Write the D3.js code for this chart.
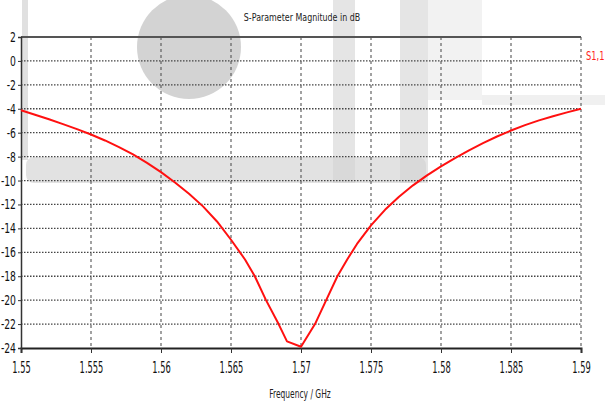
<!DOCTYPE html>
<html>
<head>
<meta charset="utf-8">
<script src="https://cdn.jsdelivr.net/npm/d3@7"></script>
<style>
  body { margin: 0; background: #fff; }
  text { font-family: "DejaVu Sans", "Liberation Sans", sans-serif; }
</style>
</head>
<body>
<div id="chart"></div>
<script>
// S1,1 magnitude
const freq = [1.550, 1.551, 1.552, 1.553, 1.554, 1.555, 1.556, 1.557, 1.558, 1.559,
              1.560, 1.561, 1.562, 1.563, 1.564, 1.565, 1.566, 1.5667, 1.5675, 1.5684,
              1.5690, 1.5700, 1.5710, 1.5718, 1.5726, 1.5733, 1.574, 1.575, 1.576, 1.577,
              1.578, 1.579, 1.580, 1.581, 1.582, 1.583, 1.584, 1.585, 1.586, 1.587,
              1.588, 1.589, 1.590];
const s11 = [-4.12, -4.5, -4.88, -5.28, -5.7, -6.15, -6.65, -7.2, -7.82, -8.52,
             -9.3, -10.16, -11.11, -12.16, -13.42, -14.95, -16.6, -18.0, -20.0, -22.0,
             -23.45, -23.9, -22.0, -20.0, -18.0, -16.6, -15.3, -13.75, -12.45, -11.35,
             -10.4, -9.57, -8.82, -8.12, -7.47, -6.87, -6.32, -5.82, -5.37, -4.97,
             -4.62, -4.3, -4.0];
const xTicks = [1.55, 1.555, 1.56, 1.565, 1.57, 1.575, 1.58, 1.585, 1.59];
const yTicks = [2, 0, -2, -4, -6, -8, -10, -12, -14, -16, -18, -20, -22, -24];
const seriesName = 'S1,1';
const titleText = 'S-Parameter Magnitude in dB';
const xLabel = 'Frequency / GHz';

const W = 605, H = 404;
const margin = {top: 37, right: 24, bottom: 56, left: 21};

const svg = d3.select('#chart').append('svg')
    .attr('width', W)
    .attr('height', H);

//squash text horizontally like the original narrow font
function squeeze(sel, f) {
    sel.each(function() {
        const w = this.getComputedTextLength();
        d3.select(this).attr('textLength', w * f).attr('lengthAdjust', 'spacingAndGlyphs');
    });
}

//faded watermark behind the plot
const wm = svg.append('g').attr('fill', '#d3d3d3');
wm.append('circle').attr('cx', 189).attr('cy', 47).attr('r', 52);
wm.append('rect').attr('x', 22).attr('y', 0).attr('width', 6).attr('height', 160).attr('opacity', 0.7);
wm.append('rect').attr('x', 26).attr('y', 157).attr('width', 400).attr('height', 26).attr('rx', 8).attr('opacity', 0.65);
wm.append('rect').attr('x', 333).attr('y', 0).attr('width', 22).attr('height', 183).attr('opacity', 0.6);
wm.append('rect').attr('x', 400).attr('y', 0).attr('width', 28).attr('height', 183).attr('opacity', 0.6);
wm.append('rect').attr('x', 428).attr('y', 0).attr('width', 54).attr('height', 100).attr('opacity', 0.3);
wm.append('rect').attr('x', 482).attr('y', 95).attr('width', 123).attr('height', 10).attr('opacity', 0.35);

const x = d3.scaleLinear()
    .domain([1.55, 1.59])
    .range([margin.left, W - margin.right]);
const y = d3.scaleLinear()
    .domain([-24, 2])
    .range([H - margin.bottom, margin.top]);

//grid
svg.append('g')
    .selectAll('line')
    .data(yTicks.filter((d) => d > -24 && d < 2))
    .enter().append('line')
    .attr('x1', x(1.55)).attr('x2', x(1.59))
    .attr('y1', (d) => y(d)).attr('y2', (d) => y(d))
    .attr('stroke', '#444')
    .attr('stroke-width', 1.3)
    .attr('stroke-dasharray', '1.5,1.5');
svg.append('g')
    .selectAll('line')
    .data(xTicks.filter((d) => d > 1.55))
    .enter().append('line')
    .attr('x1', (d) => x(d)).attr('x2', (d) => x(d))
    .attr('y1', y(2)).attr('y2', y(-24))
    .attr('stroke', '#555')
    .attr('stroke-width', 1.1)
    .attr('stroke-dasharray', '3,3');

//top frame line
svg.append('line')
    .attr('x1', x(1.55)).attr('x2', x(1.59))
    .attr('y1', y(2)).attr('y2', y(2))
    .attr('stroke', '#555')
    .attr('stroke-width', 2);

//x axis
const xAxis = svg.append('g')
    .attr('transform', `translate(0, ${y(-24)})`)
    .call(d3.axisBottom(x).tickValues(xTicks).tickSize(5).tickPadding(9).tickFormat((d) => String(d)));
xAxis.select('.domain').attr('stroke', '#222').attr('stroke-width', 2);
xAxis.selectAll('.tick line').attr('stroke', '#333');
xAxis.selectAll('text').attr('font-size', 16).attr('fill', '#111');
squeeze(xAxis.selectAll('text'), 0.52);

//y axis
const yAxis = svg.append('g')
    .attr('transform', `translate(${x(1.55)}, 0)`)
    .call(d3.axisLeft(y).tickValues(yTicks).tickSize(3).tickPadding(2).tickFormat((d) => String(d)));
yAxis.select('.domain').attr('stroke', '#333').attr('stroke-width', 1.5);
yAxis.selectAll('.tick line').attr('stroke', '#333');
yAxis.selectAll('text').attr('font-size', 14).attr('fill', '#111');
squeeze(yAxis.selectAll('text'), 0.66);

//curve
const line = d3.line()
    .x((d, i) => x(freq[i]))
    .y((d) => y(d));
svg.append('path')
    .datum(s11)
    .attr('fill', 'none')
    .attr('stroke', '#ff1010')
    .attr('stroke-width', 2)
    .attr('stroke-linejoin', 'round')
    .attr('d', line);

//texts
const title = svg.append('text')
    .text(titleText)
    .attr('x', 302).attr('y', 21)
    .attr('text-anchor', 'middle')
    .attr('font-size', 11)
    .attr('fill', '#222');
squeeze(title, 0.72);

const xl = svg.append('text')
    .text(xLabel)
    .attr('x', 300).attr('y', 398)
    .attr('text-anchor', 'middle')
    .attr('font-size', 12.5)
    .attr('fill', '#222');
squeeze(xl, 0.6);

const leg = svg.append('text')
    .text(seriesName)
    .attr('x', 586).attr('y', 60)
    .attr('font-size', 11.5)
    .attr('fill', '#ff2020');
squeeze(leg, 0.72);
</script>
</body>
</html>
